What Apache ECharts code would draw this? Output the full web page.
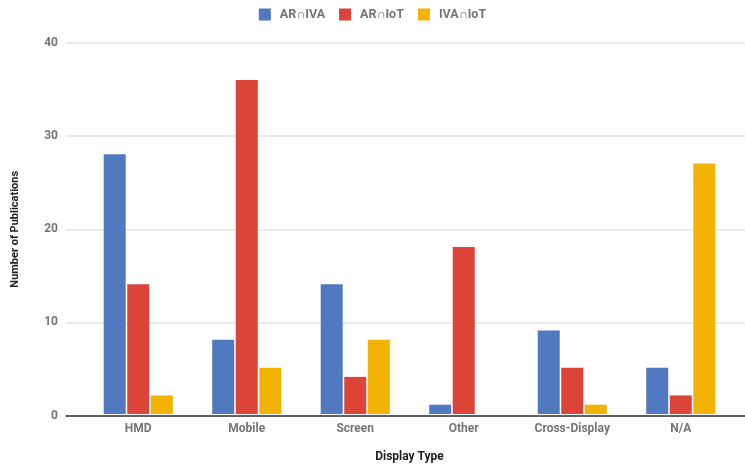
<!DOCTYPE html>
<html><head><meta charset="utf-8">
<script src="https://cdn.jsdelivr.net/npm/echarts@6/dist/echarts.min.js"></script>
<style>html,body{margin:0;padding:0;background:#fff}#c{width:745px;height:468px}</style>
</head><body><div id="c"></div>
<script>
const categories = ['HMD', 'Mobile', 'Screen', 'Other', 'Cross-Display', 'N/A'];
const seriesNames = ['AR∩IVA', 'AR∩IoT', 'IVA∩IoT'];
const arIva = [28, 8, 14, 1, 9, 5];
const arIot = [14, 36, 4, 18, 5, 2];
const ivaIot = [2, 5, 8, 0, 1, 27];
const colors = ['#5079BF', '#DC4437', '#F3B304'];
const font = 'Roboto, "Noto Sans", sans-serif';

const chart = echarts.init(document.getElementById('c'), null, {renderer: 'canvas'});
const seriesData = [arIva, arIot, ivaIot];
chart.setOption({
  animation: false,
  color: colors,
  textStyle: {fontFamily: font},
  legend: {
    top: 3, left: 'center',
    itemWidth: 12, itemHeight: 12, itemGap: 14,
    icon: 'rect',
    textStyle: {color: '#757575', fontSize: 12.5, fontWeight: 'bold', fontFamily: font, padding: [0, 0, 0, 4]},
    data: seriesNames
  },
  grid: [
    {left: 84, right: 10, top: 43, bottom: 52.5},
    {left: 66, right: 0, top: 43, bottom: 52.5}
  ],
  xAxis: [
    {
      type: 'category', gridIndex: 0, data: categories,
      axisLine: {show: false}, axisTick: {show: false},
      axisLabel: {color: '#757575', fontSize: 12, fontWeight: 'bold', margin: 9, fontFamily: font},
      name: 'Display Type', nameLocation: 'middle', nameGap: 37,
      nameTextStyle: {color: '#222', fontSize: 12, fontWeight: 'bold', fontFamily: font}
    },
    {
      type: 'value', gridIndex: 1, min: 0, max: 1,
      axisLine: {show: true, onZero: false, lineStyle: {color: '#333', width: 1.5}},
      axisTick: {show: false}, axisLabel: {show: false}, splitLine: {show: false}
    }
  ],
  yAxis: [
    {
      type: 'value', gridIndex: 0, min: 0, max: 40, interval: 10,
      axisLine: {show: false}, axisTick: {show: false}, axisLabel: {show: false},
      splitLine: {show: false}
    },
    {
      type: 'value', gridIndex: 1, min: 0, max: 40, interval: 10,
      axisLine: {show: false}, axisTick: {show: false},
      axisLabel: {color: '#757575', fontSize: 12, fontWeight: 'bold', margin: 8, fontFamily: font},
      splitLine: {lineStyle: {color: '#E4E4E4', width: 1.5}},
      name: 'Number of Publications', nameLocation: 'middle', nameGap: 45, nameRotate: 90,
      nameTextStyle: {color: '#222', fontSize: 11, fontWeight: 'bold', fontFamily: font}
    }
  ],
  series: seriesNames.map((n, i) => ({
    name: n, type: 'bar', xAxisIndex: 0, yAxisIndex: 0,
    data: seriesData[i], barWidth: 22, barGap: '7%', z: 3
  }))
});
</script></body></html>
